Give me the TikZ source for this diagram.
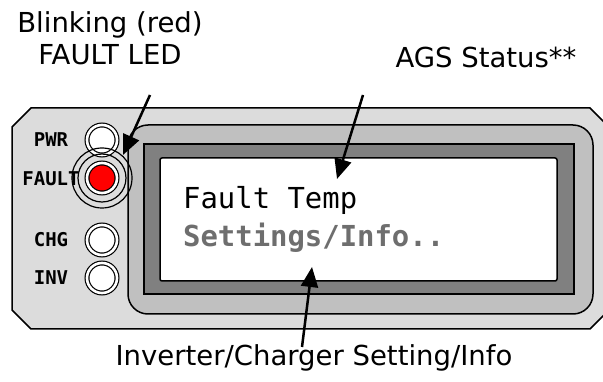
\documentclass[tikz,border=0pt]{standalone}
\usepackage{fontspec}
\setmainfont{DejaVu Sans}
\newfontfamily\scrfont{DejaVu Sans Mono}
\usetikzlibrary{arrows.meta}
\definecolor{bodygrey}{RGB}{220,220,220}
\definecolor{midgrey}{RGB}{192,192,192}
\definecolor{framegrey}{RGB}{128,128,128}
\definecolor{dimtext}{RGB}{110,110,110}
\tikzset{
  outline/.style={draw=black, line width=1.5pt},
  ledbox/.style={circle, draw=black, line width=1.2pt, double=white, double distance=2.6pt, minimum size=30pt, inner sep=0pt},
  ledring/.style={draw=black, line width=1.2pt},
  ledlabel/.style={font=\scrfont\bfseries\fontsize{19}{19}\selectfont, inner sep=0pt},
  callout/.style={font=\fontsize{27.5}{30}\selectfont, inner sep=0pt, anchor=base},
  screentext/.style={font=\scrfont\fontsize{28.9}{30}\selectfont, inner sep=0pt, anchor=base west},
  pointer/.style={line width=2.5pt, -{Triangle[length=20pt,width=17pt]}}
}
\begin{document}
\begin{tikzpicture}[x=1pt,y=-1pt]
\useasboundingbox (0,0) rectangle (603,382);
\clip (0,0) rectangle (603,382);
% body
\draw[outline, fill=bodygrey] (12,127) -- (31,108) -- (590,108) -- (611,129) -- (611,308) -- (590,329) -- (31,329) -- (12,310) -- cycle;
\draw[outline, fill=midgrey, rounded corners=20pt] (128,125) rectangle (593,314);
\draw[outline, fill=framegrey] (144,144) rectangle (574,294);
\draw[outline, fill=white, rounded corners=2pt] (160,158) rectangle (557,281);
% screen text
\node[screentext] (line1) at (183,209) {Fault Temp};
\node[screentext, text=dimtext, font=\scrfont\bfseries\fontsize{28.9}{30}\selectfont] (line2) at (183,247) {Settings/Info..};
% LEDs
\node[ledbox, fill=white] (pwr) at (102,140) {};
\node[ledbox, fill=red] (fault) at (102,178) {};
\draw[ledring] (fault.center) circle[radius=24pt];
\draw[ledring] (fault.center) circle[radius=30pt];
\node[ledbox, fill=white] (chg) at (102,240) {};
\node[ledbox, fill=white] (inv) at (102,278) {};
% LED labels
\node[ledlabel] (pwrl) at (51,140) {PWR};
\node[ledlabel] (faultl) at (51,179) {FAULT};
\node[ledlabel] (chgl) at (51,240) {CHG};
\node[ledlabel] (invl) at (51,278) {INV};
% callouts
\node[callout] (blink) at (110,33) {Blinking (red)};
\node[callout] (faultled) at (110,65) {FAULT LED};
\node[callout] (ags) at (486,68) {AGS Status**};
\node[callout] (setinfo) at (314,366) {Inverter/Charger Setting/Info};
% arrows
\coordinate (a1s) at (150,95);
\coordinate (a1e) at (123,155);
\coordinate (a2s) at (363,95);
\coordinate (a2e) at (337,179);
\coordinate (a3s) at (302,347);
\coordinate (a3e) at (312,267);
\draw[pointer] (a1s) -- (a1e);
\draw[pointer] (a2s) -- (a2e);
\draw[pointer] (a3s) -- (a3e);
\end{tikzpicture}
\end{document}
